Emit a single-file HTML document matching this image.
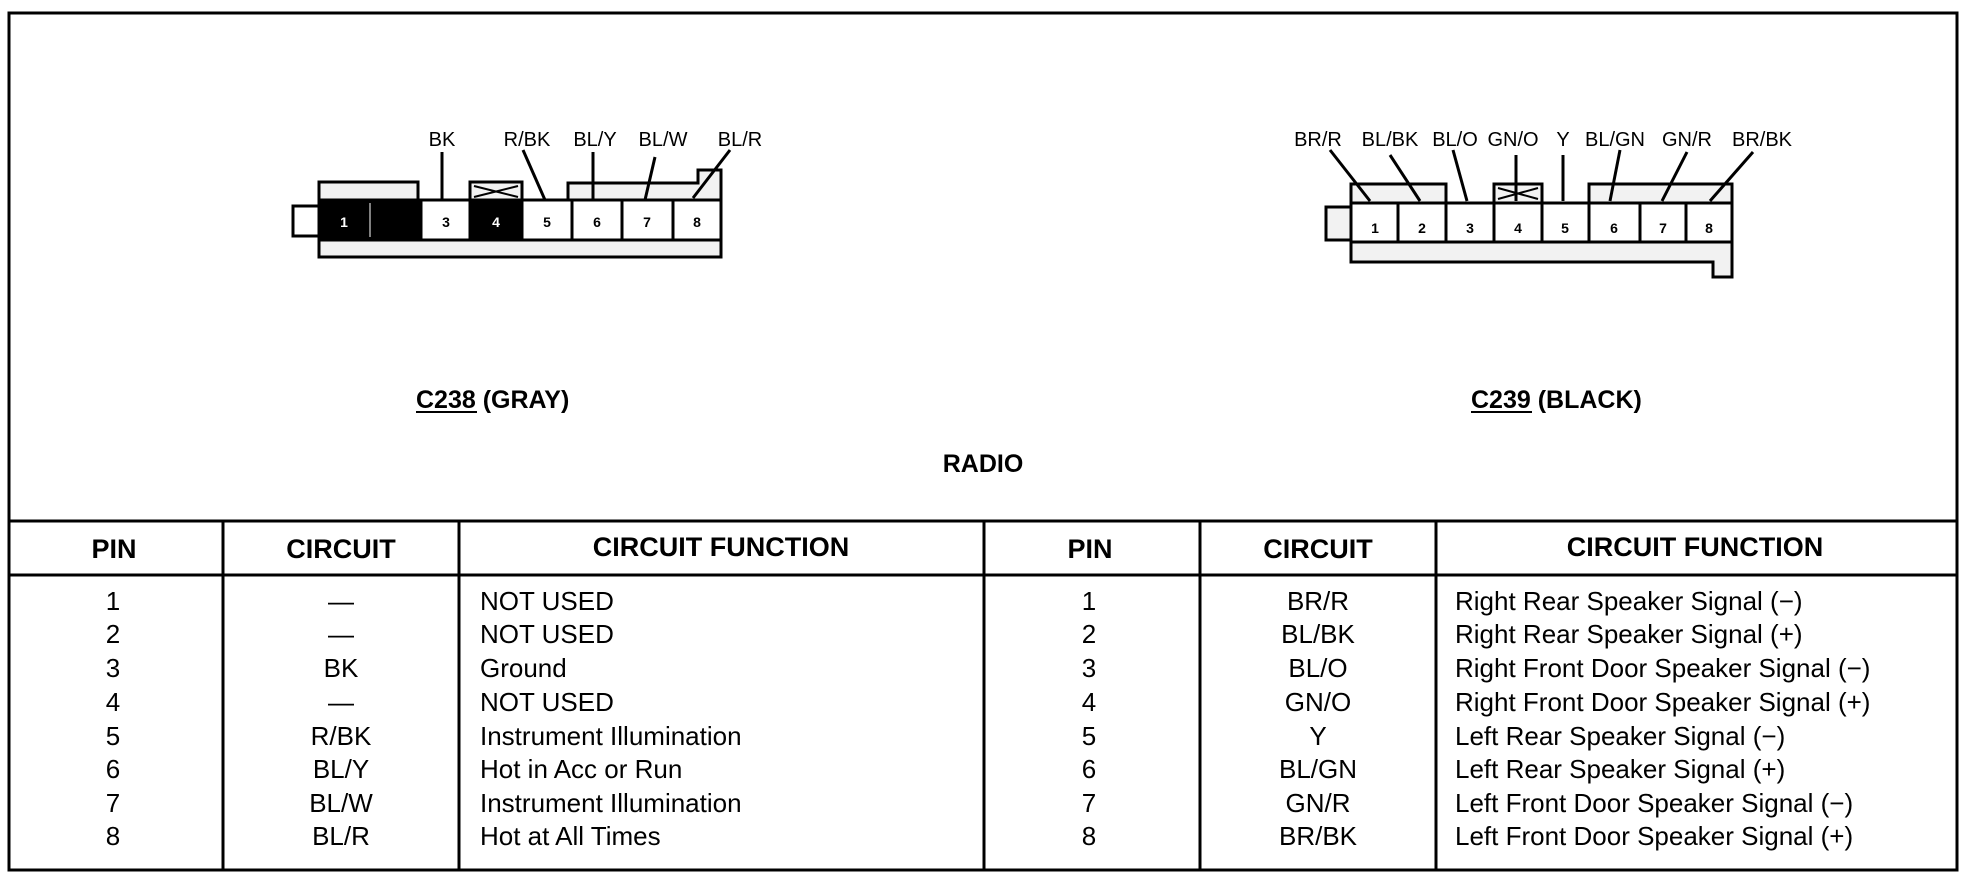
<!DOCTYPE html>
<html><head><meta charset="utf-8"><style>
html,body{margin:0;padding:0;background:#fff}
svg{display:block}
text{font-family:"Liberation Sans",Arial,sans-serif;fill:#000}
</style></head><body>
<svg width="1966" height="880" viewBox="0 0 1966 880" xmlns="http://www.w3.org/2000/svg">
<rect x="9" y="13" width="1948" height="857" fill="none" stroke="#000" stroke-width="3"/>

<!-- LEFT CONNECTOR C238 -->
<g stroke="#000" stroke-width="3" fill="#fff">
  <rect x="293" y="206" width="26" height="30"/>
  <rect x="319" y="182" width="99" height="18" fill="#f2f2f2"/>
  <rect x="470" y="182" width="52" height="18" fill="#f2f2f2"/>
  <path d="M568 200 V183 H698 V170 H721 V200" fill="#f2f2f2"/>
  <rect x="319" y="240" width="402" height="17" fill="#f2f2f2"/>
  <rect x="319" y="200" width="51" height="40" fill="#000"/>
  <rect x="370" y="200" width="51" height="40" fill="#000"/>
  <rect x="421" y="200" width="49" height="40"/>
  <rect x="470" y="200" width="52" height="40" fill="#000"/>
  <rect x="522" y="200" width="50" height="40"/>
  <rect x="572" y="200" width="50" height="40"/>
  <rect x="622" y="200" width="51" height="40"/>
  <rect x="673" y="200" width="48" height="40"/>
  <path d="M474 186 L518 197 M474 197 L518 186" fill="none" stroke-width="2"/>
  <line x1="442" y1="152" x2="442" y2="200"/>
  <line x1="523" y1="150" x2="545" y2="200"/>
  <line x1="593" y1="152" x2="593" y2="200"/>
  <line x1="655" y1="157" x2="645" y2="200"/>
  <line x1="730" y1="150" x2="693" y2="198"/>
</g>
<line x1="370" y1="203" x2="370" y2="237" stroke="#fff" stroke-width="1"/>
<g font-size="14" font-weight="bold" text-anchor="middle">
  <text x="344" y="227" style="fill:#fff">1</text>
  <text x="446" y="227">3</text>
  <text x="496" y="227" style="fill:#fff">4</text>
  <text x="547" y="227">5</text>
  <text x="597" y="227">6</text>
  <text x="647" y="227">7</text>
  <text x="697" y="227">8</text>
</g>
<g font-size="20" text-anchor="middle">
  <text x="442" y="146">BK</text>
  <text x="527" y="146">R/BK</text>
  <text x="595" y="146">BL/Y</text>
  <text x="663" y="146">BL/W</text>
  <text x="740" y="146">BL/R</text>
</g>

<!-- RIGHT CONNECTOR C239 -->
<g stroke="#000" stroke-width="3" fill="#fff">
  <rect x="1326" y="207" width="25" height="33" fill="#f2f2f2"/>
  <rect x="1351" y="184" width="95" height="19" fill="#f2f2f2"/>
  <rect x="1494" y="184" width="48" height="19" fill="#f2f2f2"/>
  <rect x="1589" y="184" width="143" height="19" fill="#f2f2f2"/>
  <path d="M1351 242 V262 H1713 V277 H1732 V242" fill="#f2f2f2"/>
  <rect x="1351" y="203" width="47" height="39"/>
  <rect x="1398" y="203" width="48" height="39"/>
  <rect x="1446" y="203" width="48" height="39"/>
  <rect x="1494" y="203" width="48" height="39"/>
  <rect x="1542" y="203" width="47" height="39"/>
  <rect x="1589" y="203" width="51" height="39"/>
  <rect x="1640" y="203" width="46" height="39"/>
  <rect x="1686" y="203" width="46" height="39"/>
  <path d="M1498 188 L1538 199 M1498 199 L1538 188" fill="none" stroke-width="2"/>
  <line x1="1330" y1="150" x2="1370" y2="201"/>
  <line x1="1390" y1="155" x2="1420" y2="201"/>
  <line x1="1453" y1="150" x2="1467" y2="201"/>
  <line x1="1516" y1="155" x2="1516" y2="201"/>
  <line x1="1563" y1="155" x2="1563" y2="201"/>
  <line x1="1620" y1="150" x2="1610" y2="201"/>
  <line x1="1687" y1="152" x2="1662" y2="201"/>
  <line x1="1753" y1="152" x2="1710" y2="201"/>
</g>
<g font-size="14" font-weight="bold" text-anchor="middle">
  <text x="1375" y="233">1</text>
  <text x="1422" y="233">2</text>
  <text x="1470" y="233">3</text>
  <text x="1518" y="233">4</text>
  <text x="1565" y="233">5</text>
  <text x="1614" y="233">6</text>
  <text x="1663" y="233">7</text>
  <text x="1709" y="233">8</text>
</g>
<g font-size="20" text-anchor="middle">
  <text x="1318" y="146">BR/R</text>
  <text x="1390" y="146">BL/BK</text>
  <text x="1455" y="146">BL/O</text>
  <text x="1513" y="146">GN/O</text>
  <text x="1563" y="146">Y</text>
  <text x="1615" y="146">BL/GN</text>
  <text x="1687" y="146">GN/R</text>
  <text x="1762" y="146">BR/BK</text>
</g>

<!-- titles -->
<g font-size="25" font-weight="bold">
  <text x="416" y="408">C238 (GRAY)</text>
  <line x1="416" y1="412" x2="477" y2="412" stroke="#000" stroke-width="2"/>
  <text x="1471" y="408">C239 (BLACK)</text>
  <line x1="1471" y1="412" x2="1532" y2="412" stroke="#000" stroke-width="2"/>
  <text x="983" y="472" text-anchor="middle">RADIO</text>
</g>

<!-- table -->
<g stroke="#000" stroke-width="3">
  <line x1="9" y1="521" x2="1957" y2="521"/>
  <line x1="9" y1="575" x2="1957" y2="575"/>
  <line x1="223" y1="521" x2="223" y2="870"/>
  <line x1="459" y1="521" x2="459" y2="870"/>
  <line x1="984" y1="521" x2="984" y2="870"/>
  <line x1="1200" y1="521" x2="1200" y2="870"/>
  <line x1="1436" y1="521" x2="1436" y2="870"/>
</g>
<g font-size="27" font-weight="bold" text-anchor="middle">
  <text x="114" y="558">PIN</text>
  <text x="341" y="558">CIRCUIT</text>
  <text x="721" y="556">CIRCUIT FUNCTION</text>
  <text x="1090" y="558">PIN</text>
  <text x="1318" y="558">CIRCUIT</text>
  <text x="1695" y="556">CIRCUIT FUNCTION</text>
</g>
<g font-size="26" text-anchor="middle">
  <text x="113" y="610">1</text><text x="113" y="643">2</text><text x="113" y="677">3</text><text x="113" y="711">4</text>
  <text x="113" y="745">5</text><text x="113" y="778">6</text><text x="113" y="812">7</text><text x="113" y="845">8</text>
  <text x="341" y="610">—</text><text x="341" y="643">—</text><text x="341" y="677">BK</text><text x="341" y="711">—</text>
  <text x="341" y="745">R/BK</text><text x="341" y="778">BL/Y</text><text x="341" y="812">BL/W</text><text x="341" y="845">BL/R</text>
  <text x="1089" y="610">1</text><text x="1089" y="643">2</text><text x="1089" y="677">3</text><text x="1089" y="711">4</text>
  <text x="1089" y="745">5</text><text x="1089" y="778">6</text><text x="1089" y="812">7</text><text x="1089" y="845">8</text>
  <text x="1318" y="610">BR/R</text><text x="1318" y="643">BL/BK</text><text x="1318" y="677">BL/O</text><text x="1318" y="711">GN/O</text>
  <text x="1318" y="745">Y</text><text x="1318" y="778">BL/GN</text><text x="1318" y="812">GN/R</text><text x="1318" y="845">BR/BK</text>
</g>
<g font-size="26">
  <text x="480" y="610">NOT USED</text>
  <text x="480" y="643">NOT USED</text>
  <text x="480" y="677">Ground</text>
  <text x="480" y="711">NOT USED</text>
  <text x="480" y="745">Instrument Illumination</text>
  <text x="480" y="778">Hot in Acc or Run</text>
  <text x="480" y="812">Instrument Illumination</text>
  <text x="480" y="845">Hot at All Times</text>
  <text x="1455" y="610">Right Rear Speaker Signal (−)</text>
  <text x="1455" y="643">Right Rear Speaker Signal (+)</text>
  <text x="1455" y="677">Right Front Door Speaker Signal (−)</text>
  <text x="1455" y="711">Right Front Door Speaker Signal (+)</text>
  <text x="1455" y="745">Left Rear Speaker Signal (−)</text>
  <text x="1455" y="778">Left Rear Speaker Signal (+)</text>
  <text x="1455" y="812">Left Front Door Speaker Signal (−)</text>
  <text x="1455" y="845">Left Front Door Speaker Signal (+)</text>
</g>
</svg>
</body></html>
